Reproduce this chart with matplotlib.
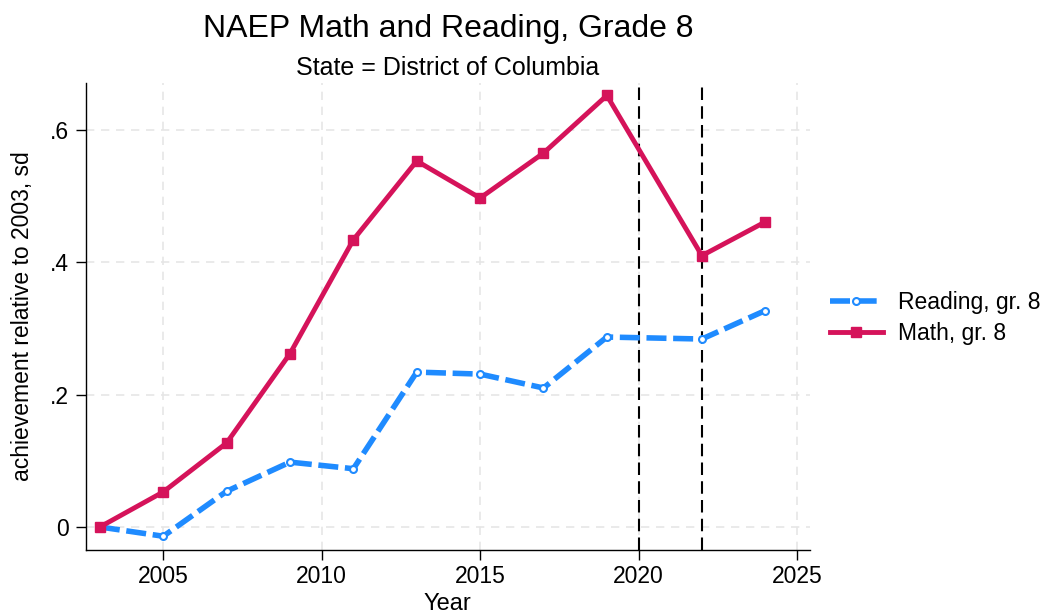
import matplotlib
matplotlib.use("Agg")
import matplotlib.pyplot as plt
from matplotlib.ticker import FuncFormatter

# Datos (logro relativo a 2003, en desviaciones estándar)
years_math = [2003, 2005, 2007, 2009, 2011, 2013, 2015, 2017, 2019, 2022, 2024]
math_g8 = [0.0, 0.053, 0.127, 0.262, 0.434, 0.553, 0.497, 0.565, 0.652, 0.410, 0.461]

years_read = [2003, 2005, 2007, 2009, 2011, 2013, 2015, 2017, 2019, 2022, 2024]
read_g8 = [0.0, -0.014, 0.054, 0.098, 0.088, 0.234, 0.231, 0.210, 0.287, 0.284, 0.327]

vlines = [2020, 2022]
xticks = [2005, 2010, 2015, 2020, 2025]
yticks = [0, 0.2, 0.4, 0.6]

plt.rcParams["font.family"] = ["Liberation Sans", "DejaVu Sans"]

fig = plt.figure(figsize=(10.42, 6.14), dpi=100)
ax = fig.add_axes([0.0825, 0.104, 0.6945, 0.761])

ax.plot(years_read, read_g8, color="#1f8bff", linewidth=4, linestyle=(0, (3.6, 1.2)),
        marker="o", markersize=5, markerfacecolor="white", markeredgewidth=1.5,
        markeredgecolor="#1f8bff", label="Reading, gr. 8", zorder=3)
ax.plot(years_math, math_g8, color="#d5135a", linewidth=3.5,
        marker="s", markersize=6.5, label="Math, gr. 8", zorder=3)

for v in vlines:
    ax.axvline(v, color="black", linewidth=1.5, linestyle=(0, (6, 3)), zorder=2)

ax.set_xlim(2002.56, 2025.4)
ax.set_ylim(-0.035, 0.671)
ax.set_xticks(xticks)
ax.set_yticks(yticks)
ax.yaxis.set_major_formatter(FuncFormatter(lambda v, _: "0" if v == 0 else f"{v:.1f}".lstrip("0")))
ax.grid(True, color="#e6e6e6", linestyle=(0, (5, 4)), linewidth=1.2, zorder=0)
ax.set_axisbelow(True)

for s in ["top", "right"]:
    ax.spines[s].set_visible(False)
ax.tick_params(axis="both", labelsize=16.5, length=7, width=1)
ax.tick_params(axis="y", pad=5)
ax.spines["left"].set_linewidth(1)
ax.spines["bottom"].set_linewidth(1)

ax.set_xlabel("Year", fontsize=17, labelpad=4)
ax.set_ylabel("achievement relative to 2003, sd", fontsize=16.5, labelpad=12)

fig.text(0.43, 0.952, "NAEP Math and Reading, Grade 8", fontsize=23, ha="center", va="center")
fig.text(0.43, 0.890, "State = District of Columbia", fontsize=18, ha="center", va="center")

ax.legend(loc="center left", bbox_to_anchor=(0.999, 0.497), frameon=False, fontsize=16.5,
          handlelength=2.35, handletextpad=0.65, labelspacing=0.35)

fig.savefig("out.png", dpi=100)
